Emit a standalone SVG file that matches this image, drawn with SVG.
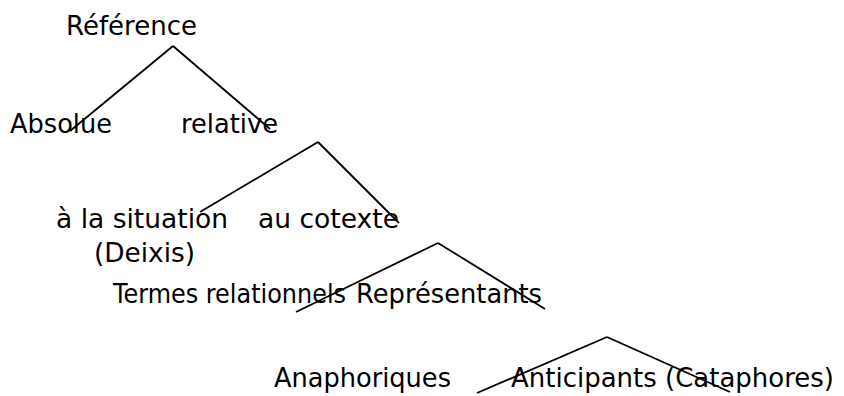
<svg xmlns="http://www.w3.org/2000/svg" width="844" height="396" viewBox="0 0 844 396">
<style>
text{font-family:"DejaVu Sans",Verdana,sans-serif;font-size:25.8px;fill:#000}
.c line{stroke:#000;stroke-width:1.8;fill:none}
</style>
<rect width="844" height="396" fill="#fff"/>
<g id="connectors" class="c">
<line x1="173" y1="46" x2="70" y2="131"/>
<line x1="173" y1="46" x2="270" y2="129"/>
<line x1="318" y1="142" x2="200" y2="212"/>
<line x1="318" y1="142" x2="399" y2="223"/>
<line x1="438" y1="243" x2="296" y2="312"/>
<line x1="438" y1="243" x2="545" y2="309"/>
<line x1="607" y1="337" x2="477" y2="393"/>
<line x1="607" y1="337" x2="730" y2="392"/>
</g>
<g id="n-reference"><text x="66" y="35" textLength="131" lengthAdjust="spacingAndGlyphs">Référence</text></g>
<g id="n-absolue"><text x="10" y="133" textLength="102" lengthAdjust="spacingAndGlyphs">Absolue</text></g>
<g id="n-relative"><text x="181" y="133" textLength="97" lengthAdjust="spacingAndGlyphs">relative</text></g>
<g id="n-situation"><text x="56" y="228" textLength="172" lengthAdjust="spacingAndGlyphs">à la situation</text><text x="94" y="262" textLength="101" lengthAdjust="spacingAndGlyphs">(Deixis)</text></g>
<g id="n-cotexte"><text x="258" y="228" textLength="141" lengthAdjust="spacingAndGlyphs">au cotexte</text></g>
<g id="n-termes"><text x="113" y="303" textLength="233" lengthAdjust="spacingAndGlyphs">Termes relationnels</text></g>
<g id="n-representants"><text x="356" y="303" textLength="186" lengthAdjust="spacingAndGlyphs">Représentants</text></g>
<g id="n-anaphoriques"><text x="274" y="387" textLength="177" lengthAdjust="spacingAndGlyphs">Anaphoriques</text></g>
<g id="n-anticipants"><text x="511" y="387" textLength="323" lengthAdjust="spacingAndGlyphs">Anticipants (Cataphores)</text></g>
</svg>
